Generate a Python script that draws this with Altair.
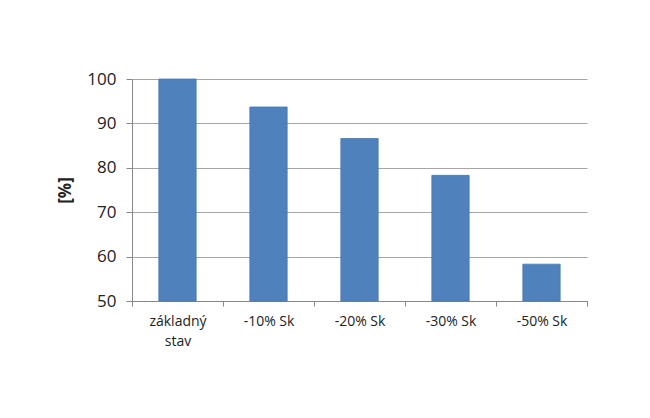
import altair as alt
import pandas as pd

categories = ["základný stav", "-10% Sk", "-20% Sk", "-30% Sk", "-50% Sk"]
values = [100.0, 93.7, 86.6, 78.3, 58.3]
baseline = 50

df = pd.DataFrame({"cat": categories, "val": values})

bars = alt.Chart(df).mark_bar(color="#4f81bd", stroke="#4677b3", strokeWidth=0.8,
                              width=alt.RelativeBandSize(0.41)).encode(
    x=alt.X("cat:N", sort=categories, title=None,
            scale=alt.Scale(paddingInner=0, paddingOuter=0),
            axis=alt.Axis(labelAngle=0, tickBand="extent", labelFontSize=14,
                          labelFont="Open Sans", labelColor="#222", labelPadding=8,
                          tickSize=5, tickColor="#888", domainColor="#888", grid=False,
                          labelExpr="datum.label == 'základný stav' ? ['základný', 'stav'] : datum.label",
                          labelLineHeight=20)),
    y=alt.Y("val:Q", title="[%]", scale=alt.Scale(domain=[50, 100], nice=False, zero=False),
            axis=alt.Axis(values=[50, 60, 70, 80, 90, 100], labelFontSize=17,
                          labelFont="Open Sans", labelColor="#222", labelPadding=10,
                          tickSize=6, tickColor="#888", domainColor="#888",
                          gridColor="#a6a6a6", gridWidth=1.2,
                          titleFontSize=17, titleFont="Open Sans", titleFontWeight="bold",
                          titleColor="#222", titlePadding=12)),
    y2=alt.datum(baseline),
)

chart = bars.properties(
    width=455, height=222, autosize=alt.AutoSizeParams(type="none"),
    padding={"left": 124, "top": 71, "right": 50, "bottom": 100},
    background="white",
).configure_view(stroke="transparent", strokeWidth=0)

chart.save("out.html", embed_options={"renderer": "svg", "actions": False})
